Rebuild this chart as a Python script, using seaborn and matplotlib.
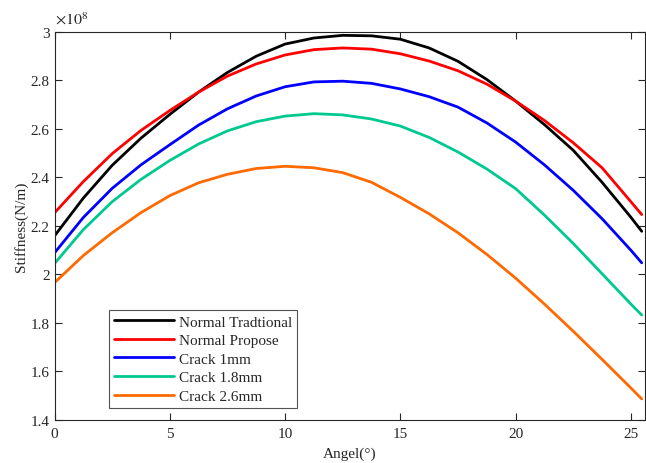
import numpy as np
import pandas as pd
import matplotlib
matplotlib.use("Agg")
import matplotlib.pyplot as plt
import seaborn as sns

# =============================================
# Data (stiffness in units of 1e8 N/m)
angle = [0, 1.25, 2.5, 3.75, 5, 6.25, 7.5, 8.75, 10, 11.25, 12.5,
         13.75, 15, 16.25, 17.5, 18.75, 20, 21.25, 22.5, 23.75, 25, 25.47]
normal_traditional = [2.159, 2.315, 2.450, 2.562, 2.660, 2.752, 2.833, 2.900, 2.950, 2.975, 2.986,
                      2.984, 2.970, 2.934, 2.879, 2.804, 2.715, 2.618, 2.512, 2.380, 2.236, 2.178]
normal_propose = [2.254, 2.383, 2.498, 2.594, 2.676, 2.752, 2.818, 2.868, 2.905, 2.927, 2.934,
                  2.929, 2.910, 2.880, 2.840, 2.785, 2.715, 2.635, 2.543, 2.440, 2.300, 2.247]
crack_1mm = [2.089, 2.235, 2.355, 2.452, 2.535, 2.616, 2.683, 2.736, 2.774, 2.794, 2.797,
             2.788, 2.765, 2.733, 2.690, 2.625, 2.546, 2.452, 2.347, 2.230, 2.100, 2.048]
crack_1_8mm = [2.045, 2.185, 2.300, 2.392, 2.470, 2.538, 2.592, 2.630, 2.653, 2.663, 2.658,
               2.641, 2.612, 2.565, 2.505, 2.435, 2.354, 2.245, 2.128, 2.003, 1.878, 1.833]
crack_2_6mm = [1.966, 2.078, 2.172, 2.255, 2.325, 2.378, 2.413, 2.437, 2.446, 2.440, 2.420,
               2.380, 2.318, 2.250, 2.172, 2.083, 1.985, 1.878, 1.766, 1.650, 1.532, 1.487]

labels = ['Normal Tradtional', 'Normal Propose', 'Crack 1mm', 'Crack 1.8mm', 'Crack 2.6mm']
series = [normal_traditional, normal_propose, crack_1mm, crack_1_8mm, crack_2_6mm]
colors = ['#000000', '#ff0000', '#0000ff', '#00c990', '#ff6a00']

df = pd.concat([pd.DataFrame({'angle': angle, 'stiffness': s, 'case': lab})
                for s, lab in zip(series, labels)], ignore_index=True)

# =============================================
# Plot settings
sns.set_style("ticks")
plt.rcParams['font.family'] = ['Liberation Serif', 'DejaVu Serif']
plt.rcParams['mathtext.fontset'] = 'stix'

fig = plt.figure(figsize=(6.46, 4.64), dpi=100)
ax = fig.add_axes([0.0844, 0.0927, 0.9136, 0.8363])

sns.lineplot(data=df, x='angle', y='stiffness', hue='case', hue_order=labels,
             palette=colors, linewidth=2.0, ax=ax, sort=False, estimator=None)

ax.set_xlim(0, 25.6)
ax.set_ylim(1.4, 3.0)
ax.set_xticks([0, 5, 10, 15, 20, 25])
ax.set_yticks([1.4, 1.6, 1.8, 2.0, 2.2, 2.4, 2.6, 2.8, 3.0])
ax.set_yticklabels(['%g' % v for v in ax.get_yticks()])
ax.tick_params(direction='in', top=True, right=True, labelsize=11, length=5,
               width=0.8, colors='#262626')
ax.tick_params(axis='x', pad=5)
for sp in ax.spines.values():
    sp.set_linewidth(0.8)
    sp.set_color('#262626')

ax.set_xlabel('Angel(°)', fontsize=11, labelpad=5)
ax.set_ylabel('Stiffness(N/m)', fontsize=11, labelpad=2)
ax.text(0.0, 1.01, r'$\times 10^{8}$', transform=ax.transAxes, fontsize=11.5,
        ha='left', va='bottom', color='#262626')

leg = ax.legend(loc='lower left', bbox_to_anchor=(0.0925, 0.03), fontsize=11,
                frameon=True, fancybox=False, handlelength=3.9, borderpad=0.35,
                labelspacing=0.32, handletextpad=0.3, borderaxespad=0)
leg.get_frame().set_edgecolor('#262626')
leg.get_frame().set_linewidth(0.8)
for line in leg.get_lines():
    line.set_linewidth(2.0)

plt.savefig('out.png', dpi=100)
plt.close()
